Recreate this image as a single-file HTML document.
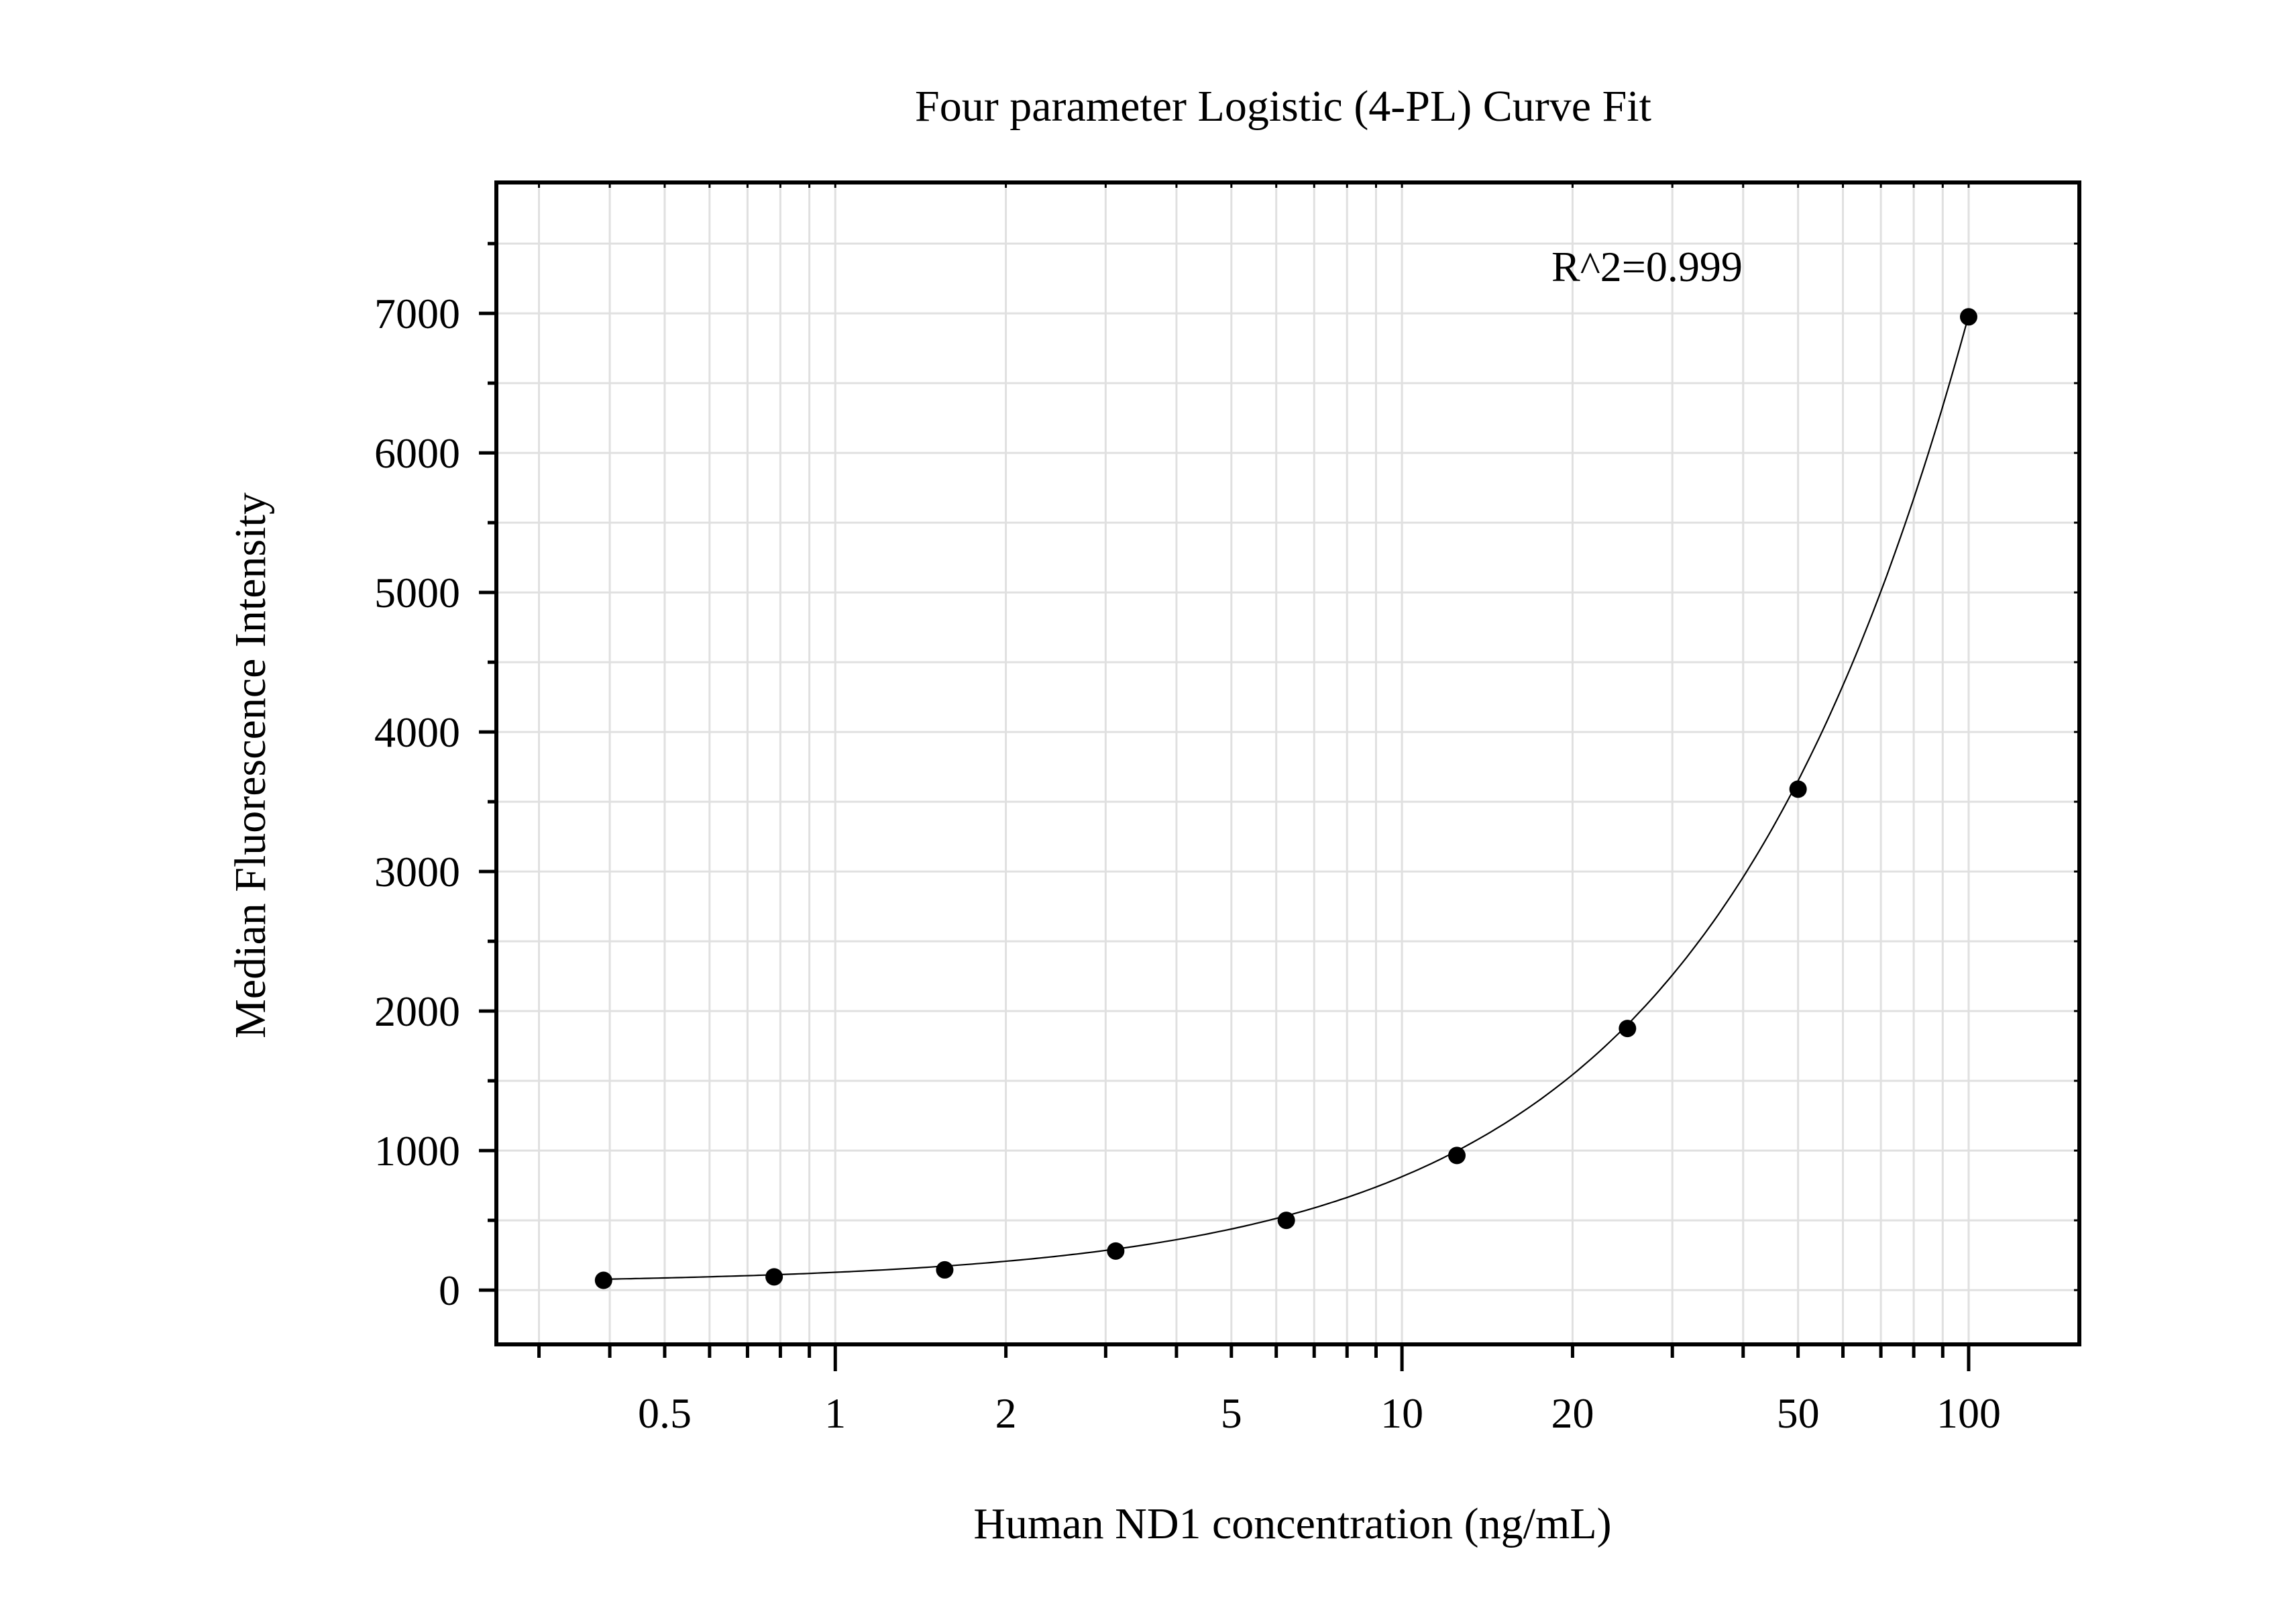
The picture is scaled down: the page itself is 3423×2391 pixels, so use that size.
<!DOCTYPE html>
<html><head><meta charset="utf-8"><style>
html,body{margin:0;padding:0;background:#fff;}
svg{display:block;font-family:"Liberation Serif",serif;}
</style></head><body>
<svg id="chart" width="3423" height="2391" viewBox="0 0 3423 2391" xmlns="http://www.w3.org/2000/svg">
<rect x="0" y="0" width="3423" height="2391" fill="#fff"/>
<g id="grid"></g>
<g id="curve"></g>
<g id="points"></g>
<g id="axes"></g>
<text x="1913" y="180" font-size="66" text-anchor="middle">Four parameter Logistic (4-PL) Curve Fit</text>
<text x="1927" y="2293" font-size="66" text-anchor="middle">Human ND1 concentration (ng/mL)</text>
<text x="0" y="0" font-size="66" text-anchor="middle" transform="translate(395,1141) rotate(-90)">Median Fluorescence Intensity</text>
<text x="2313" y="419" font-size="64">R^2=0.999</text>
</svg>
<script>
const concentrations = [0.39, 0.78, 1.56, 3.125, 6.25, 12.5, 25, 50, 100];
const intensities = [70, 95, 145, 280, 500, 965, 1875, 3590, 6975];
const xTickLabels = ["0.5", "1", "2", "5", "10", "20", "50", "100"];
const xTickValues = [0.5, 1, 2, 5, 10, 20, 50, 100];
const yTickValues = [0, 1000, 2000, 3000, 4000, 5000, 6000, 7000];
const fitA = 45, fitB = 0.97, fitC = 3000, fitD = 195000;

const L = 740, R = 3100, T = 272, B = 2004;
const xMin = Math.log10(0.2523), xMax = Math.log10(156.8);
const yMin = -389, yMax = 7938;
function X(v){ return L + (Math.log10(v) - xMin) / (xMax - xMin) * (R - L); }
function Y(v){ return B - (v - yMin) / (yMax - yMin) * (B - T); }
const NS = "http://www.w3.org/2000/svg";
function mk(tag, parent, attrs){ const e = document.createElementNS(NS, tag); for (const k in attrs) e.setAttribute(k, attrs[k]); parent.appendChild(e); return e; }

const grid = document.getElementById('grid');
const axes = document.getElementById('axes');
const minorX = [];
[0.1, 1, 10].forEach(d => { for (let m = 1; m <= 9; m++){ const v = m*d; if (v > 0.2523 && v < 156.8) minorX.push(v); } });
minorX.push(100);
minorX.forEach(v => {
  const x = X(v);
  const g = mk('line', grid, {x1:x, x2:x, y1:T, y2:B, stroke:'#e0e0e0', 'stroke-width':3});
  
  
  const major = Math.abs(Math.log10(v) - Math.round(Math.log10(v))) < 1e-9;
  const t = mk('line', axes, {x1:x, x2:x, y1:B, y2:B + (major ? 40 : 20), stroke:'#000', 'stroke-width':5});
  
  
  const t2 = mk('line', axes, {x1:x, x2:x, y1:T, y2:T + 8, stroke:'#000', 'stroke-width':3});
  
  
});
for (let v = 0; v <= 7500; v += 500){
  const y = Y(v);
  const g = mk('line', grid, {x1:L, x2:R, y1:y, y2:y, stroke:'#e0e0e0', 'stroke-width':3});
  
  
  const major = v % 1000 === 0;
  const t = mk('line', axes, {x1:L - (major ? 26 : 13), x2:L, y1:y, y2:y, stroke:'#000', 'stroke-width':5});
  
  
  const t2 = mk('line', axes, {x1:R - 8, x2:R, y1:y, y2:y, stroke:'#000', 'stroke-width':3});
  
  
}
const frame = mk('rect', axes, {x:L, y:T, width:R-L, height:B-T, fill:'none', stroke:'#000', 'stroke-width':6});



xTickValues.forEach((v, i) => {
  const t = mk('text', axes, {x:X(v), y:2128, 'font-size':64, 'text-anchor':'middle'});
  t.textContent = xTickLabels[i];
  
  
});
yTickValues.forEach(v => {
  const t = mk('text', axes, {x:686, y:Y(v) + 22, 'font-size':64, 'text-anchor':'end'});
  t.textContent = String(v);
  
  
});

function fit(x){ const r = Math.pow(x / fitC, fitB); return fitA + (fitD - fitA) * r / (1 + r); }
let d = '';
const x0 = Math.log10(concentrations[0]), x1 = Math.log10(concentrations[concentrations.length-1]);
for (let i = 0; i <= 300; i++){
  const lx = x0 + (x1 - x0) * i / 300; const v = Math.pow(10, lx);
  d += (i ? 'L' : 'M') + X(v).toFixed(1) + ',' + Y(fit(v)).toFixed(1);
}
const path = mk('path', document.getElementById('curve'), {d:d, fill:'none', stroke:'#000', 'stroke-width':2.2});



const pts = document.getElementById('points');
concentrations.forEach((c, i) => {
  const p = mk('circle', pts, {cx:X(c), cy:Y(intensities[i]), r:13, fill:'#000'});
  
  
});
</script>
</body></html>
